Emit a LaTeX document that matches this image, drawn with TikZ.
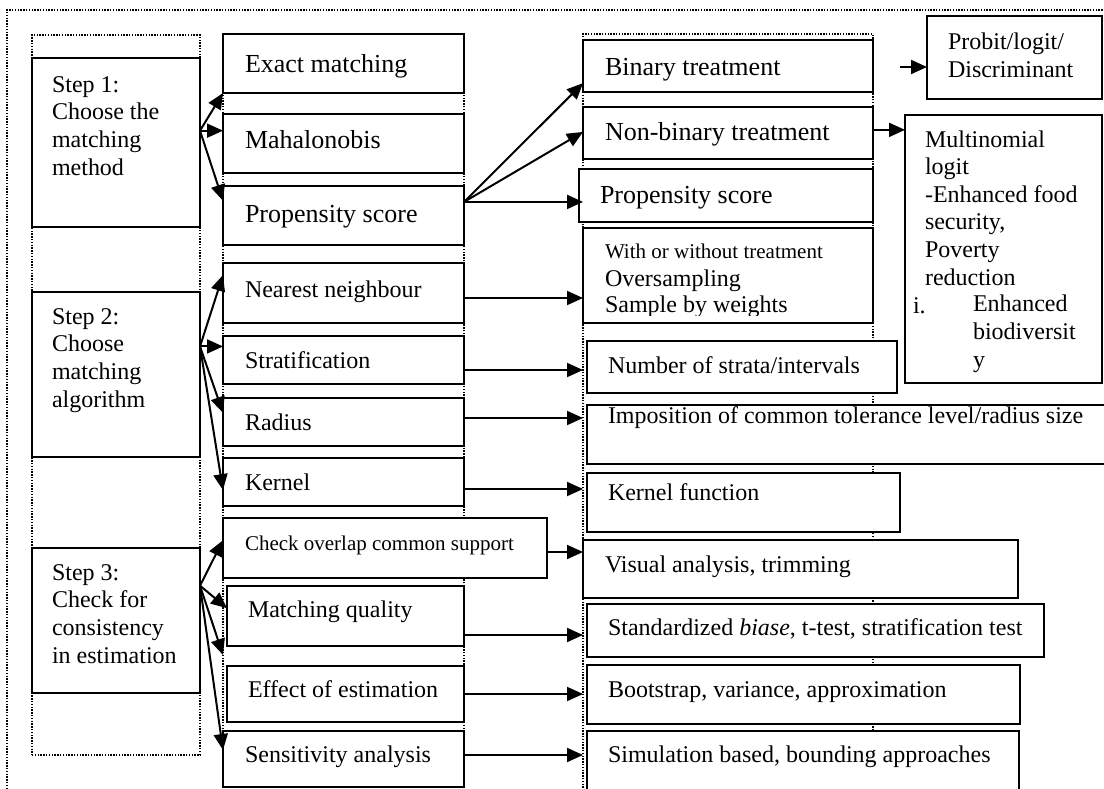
\documentclass[tikz,border=0pt]{standalone}
\usepackage{fontspec}
\setmainfont{Liberation Serif}
\usetikzlibrary{arrows.meta,fit,calc}

\begin{document}
\begin{tikzpicture}[x=0.5pt,y=-0.5pt,
  box/.style={draw, line width=0.9pt, fill=white, inner sep=0pt, outer sep=0pt},
  dotframe/.style={draw, line width=0.7pt, dash pattern=on 0.7pt off 0.7pt, inner sep=0pt, outer sep=0pt},
  % multi-line texts are placed by the baseline of their last line
  txt/.style={anchor=base west, inner sep=0pt, outer sep=0pt, align=left},
  big/.style={font=\fontsize{13}{15}\selectfont},
  mid/.style={font=\fontsize{12}{13.8}\selectfont},
  sml/.style={font=\fontsize{10.5}{12}\selectfont},
  arr/.style={line width=1pt, -{Triangle[length=8pt,width=7pt]}},
]
\useasboundingbox (0,0) rectangle (1104,788);
\clip (0,0) rectangle (1104,788);

% dotted outlines: page frame and the three columns
\node[dotframe, fit={(7,10) (1125,810)}] (frame) {};
\node[dotframe, fit={(32,35) (200,755)}] (col1) {};
\node[dotframe, fit={(223,34) (464,810)}] (col2) {};
\node[dotframe, fit={(583,34) (873,810)}] (col3) {};

% step boxes
\node[box, fit={(32,58) (200,227)}] (s1) {};
\node[box, fit={(32,292) (200,457)}] (s2) {};
\node[box, fit={(32,548) (200,693)}] (s3) {};
\node[txt, mid] (s1t) at (52,175) {Step 1:\\Choose the\\matching\\method};
\node[txt, mid] (s2t) at (52,407) {Step 2:\\Choose\\matching\\algorithm};
\node[txt, mid] (s3t) at (52,663) {Step 3:\\Check for\\consistency\\in estimation};

% second column
\node[box, fit={(223,34) (464,93)}] (exact) {};
\node[box, fit={(223,114) (464,173)}] (maha) {};
\node[box, fit={(223,186) (464,245)}] (prop) {};
\node[box, fit={(223,263) (464,323)}] (near) {};
\node[box, fit={(223,336) (464,384)}] (strat) {};
\node[box, fit={(223,398) (464,446)}] (rad) {};
\node[box, fit={(223,458) (464,506)}] (kern) {};
\node[box, fit={(223,518) (547,578)}] (overlap) {};
\node[box, fit={(227,586) (464,646)}] (mqual) {};
\node[box, fit={(227,666) (464,722)}] (effect) {};
\node[box, fit={(223,731) (464,787)}] (sens) {};

\node[txt, big] (exactt) at (245,72) {Exact matching};
\node[txt, big] (mahat) at (245,148) {Mahalonobis};
\node[txt, big] (propt) at (245,222) {Propensity score};
\node[txt, mid] (neart) at (245,297) {Nearest neighbour};
\node[txt, mid] (stratt) at (245,368) {Stratification};
\node[txt, mid] (radt) at (245,430) {Radius};
\node[txt, mid] (kernt) at (245,490) {Kernel};
\node[txt, sml] (overlapt) at (245,550) {Check overlap common support};
\node[txt, mid] (mqualt) at (248,617) {Matching quality};
\node[txt, mid] (effectt) at (248,697) {Effect of estimation};
\node[txt, mid] (senst) at (245,762) {Sensitivity analysis};

% third column
\node[box, fit={(583,40) (873,92)}] (binary) {};
\node[box, fit={(583,107) (873,159)}] (nonbin) {};
\node[box, fit={(579,169) (873,222)}] (prop2) {};
\node[box, fit={(583,228) (873,323)}] (withb) {};
\node[box, fit={(587,341) (897,393)}] (nstrata) {};
\node[box, fit={(587,405) (1125,464)}] (impos) {};
\node[box, fit={(587,473) (900,532)}] (kfun) {};
\node[box, fit={(583,540) (1018,598)}] (visual) {};
\node[box, fit={(587,604) (1044,657)}] (stand) {};
\node[box, fit={(587,665) (1020,724)}] (boot) {};
\node[box, fit={(587,731) (1019,810)}] (sim) {};

\node[txt, big] (binaryt) at (605,75) {Binary treatment};
\node[txt, big] (nonbint) at (605,140) {Non-binary treatment};
\node[txt, big] (prop2t) at (600,203) {Propensity score};
\begin{scope}
  \clip (583,228) rectangle (873,315);
  \node[txt, sml] (witht) at (605,258) {With or without treatment};
  \node[txt, mid] (overt) at (605,286) {Oversampling};
  \node[txt, mid] (samplet) at (605,312) {Sample by weights};
\end{scope}
\node[txt, mid] (nstratat) at (608,373) {Number of strata/intervals};
\node[txt, mid] (impost) at (608,423) {Imposition of common tolerance level/radius size};
\node[txt, mid] (kfunt) at (608,500) {Kernel function};
\node[txt, mid] (visualt) at (605,572) {Visual analysis, trimming};
\node[txt, mid] (standt) at (608,635) {Standardized \textit{biase}, t-test, stratification test};
\node[txt, mid] (boott) at (608,697) {Bootstrap, variance, approximation};
\node[txt, mid] (simt) at (608,762) {Simulation based, bounding approaches};

% fourth column
\node[box, fit={(927,16) (1102,99)}] (probit) {};
\node[box, fit={(905,115) (1102,383)}] (multi) {};
\node[txt, mid] (probitt) at (948,77) {Probit/logit/\\Discriminant};
\node[txt, mid] (multit) at (925,285) {Multinomial\\logit\\-Enhanced food\\security,\\Poverty\\reduction};
\node[txt, mid] (itemi) at (913,313) {i.};
\node[txt, mid] (itemt) at (973,367) {Enhanced\\biodiversit\\y};

% step 1 connectors
\coordinate (s1o) at ($(s1.north east)!0.43!(s1.south east)$);
\draw[arr] (s1o) -- (exact.south west);
\draw[arr] (s1o) -- (maha.west |- s1o);
\draw[arr] (s1o) -- ($(prop.north west)!0.25!(prop.south west)$);

% step 2 connectors
\coordinate (s2o) at ($(s2.north east)!0.33!(s2.south east)$);
\draw[arr] (s2o) -- ($(near.north west)!0.2!(near.south west)$);
\draw[arr] (s2o) -- (strat.west |- s2o);
\draw[arr] (s2o) -- ($(rad.north west)!0.31!(rad.south west)$);
\draw[arr] (s2o) -- ($(kern.north west)!0.67!(kern.south west)$);

% step 3 connectors
\coordinate (s3o) at ($(s3.north east)!0.26!(s3.south east)$);
\draw[arr] (s3o) -- ($(overlap.north west)!0.37!(overlap.south west)$);
\draw[arr] (s3o) -- ($(mqual.north west)!0.37!(mqual.south west)$);
\draw[arr] (s3o) -- ($(effect.north west)+(-4,-11)$);
\draw[arr] (s3o) -- ($(sens.north west)!0.34!(sens.south west)$);

% propensity score branches
\coordinate (po) at ($(prop.north east)!0.27!(prop.south east)$);
\draw[arr] (po) -- ($(binary.north west)!0.83!(binary.south west)$);
\draw[arr] (po) -- ($(nonbin.north west)!0.48!(nonbin.south west)$);
\draw[arr] (po) -- (col3.west |- po);

% column 3 to column 4
\coordinate (bp) at (900,67);
\draw[arr] (bp) -- (probit.west |- bp);
\coordinate (nm) at ($(nonbin.north east)!0.44!(nonbin.south east)$);
\draw[arr] (nm) -- (multi.west |- nm);

% column 2 to column 3
\coordinate (a1) at ($(near.east)+(0,5)$);
\draw[arr] (a1) -- (col3.west |- a1);
\coordinate (a2) at ($(strat.east)+(0,10)$);
\draw[arr] (a2) -- (col3.west |- a2);
\coordinate (a3) at ($(rad.east)+(0,-4)$);
\draw[arr] (a3) -- (col3.west |- a3);
\coordinate (a4) at ($(kern.east)+(0,7)$);
\draw[arr] (a4) -- (col3.west |- a4);
\coordinate (a5) at ($(overlap.east)+(0,4)$);
\draw[arr] (a5) -- (visual.west |- a5);
\coordinate (a6) at ($(mqual.east)+(0,19)$);
\draw[arr] (a6) -- (col3.west |- a6);
\coordinate (a7) at (effect.east);
\draw[arr] (a7) -- (col3.west |- a7);
\coordinate (a8) at ($(sens.east)+(0,-4)$);
\draw[arr] (a8) -- (col3.west |- a8);
\end{tikzpicture}
\end{document}
